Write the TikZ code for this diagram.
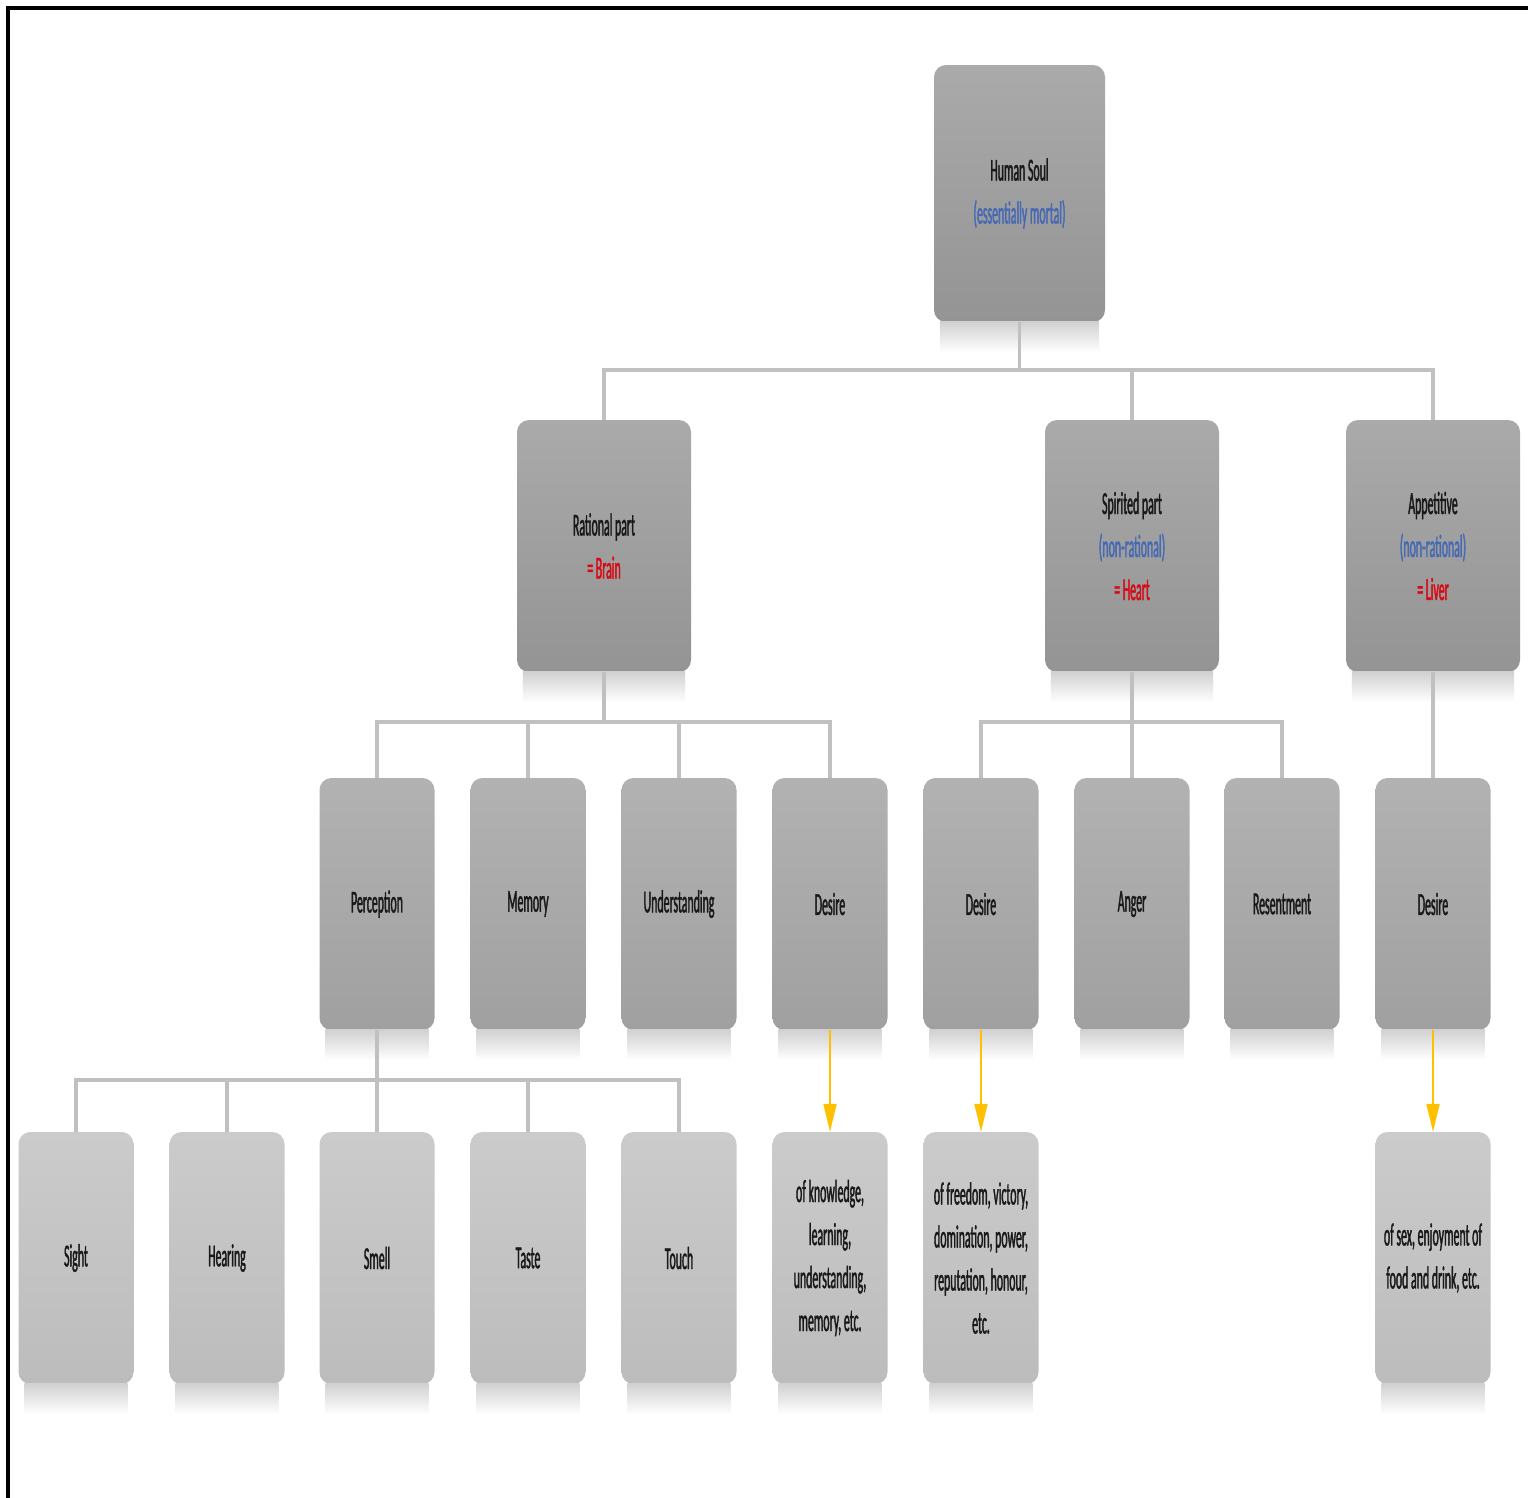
\documentclass[tikz,border=0pt]{standalone}
\usepackage{fontspec}
\usetikzlibrary{arrows.meta}
\newfontfamily\condfont[FakeStretch=0.37,FakeBold=1.2]{Carlito}
\definecolor{txtblue}{RGB}{70,105,180}
\definecolor{txtred}{RGB}{215,10,20}
\definecolor{linegray}{RGB}{192,192,192}
\definecolor{arrowyellow}{RGB}{255,192,0}
\definecolor{shadowgray}{RGB}{208,208,208}
\begin{document}
\begin{tikzpicture}[x=1pt,y=-1pt,
  boxbase/.style={rectangle, rounded corners=12pt, align=center, inner sep=2pt,
    font=\condfont\fontsize{32}{43}\selectfont, text=black!90},
  bigbox/.style={boxbase, minimum width=174pt, minimum height=252pt,
    top color={rgb,255:red,170;green,170;blue,170}, bottom color={rgb,255:red,148;green,148;blue,148}},
  midbox/.style={boxbase, minimum width=115pt, minimum height=252pt,
    top color={rgb,255:red,178;green,178;blue,178}, bottom color={rgb,255:red,160;green,160;blue,160}},
  leafbox/.style={boxbase, minimum width=115pt, minimum height=252pt,
    top color={rgb,255:red,203;green,203;blue,203}, bottom color={rgb,255:red,188;green,188;blue,188}},
  conn/.style={draw=linegray, line width=3.5pt},
  yarrow/.style={draw=arrowyellow, line width=2pt, -{Triangle[width=13pt,length=28pt]}}]

% page area and corner frame
\useasboundingbox (0,0) rectangle (1528,1497);
\fill[white] (0,0) rectangle (1528,1497);
\draw[line width=4pt, line cap=rect] (8,1497) -- (8,8) -- (1528,8);

% root
\node[bigbox, minimum width=171pt, minimum height=257pt] (soul) at (1019.5,193.5)
  {Human Soul\\\textcolor{txtblue}{(essentially mortal)}};

% three parts of the soul
\node[bigbox] (rat) at (604,546) {Rational part\\\textcolor{txtred}{= Brain}};
\node[bigbox] (spi) at (1132,546) {Spirited part\\\textcolor{txtblue}{(non-rational)}\\\textcolor{txtred}{= Heart}};
\node[bigbox] (app) at (1433,546) {Appetitive\\\textcolor{txtblue}{(non-rational)}\\\textcolor{txtred}{= Liver}};

% faculties
\node[midbox] (perc) at (377,904) {Perception};
\node[midbox] (mem)  at (528,904) {Memory};
\node[midbox] (und)  at (679,904) {Understanding};
\node[midbox] (desR) at (830,904) {Desire};
\node[midbox] (desS) at (981,904) {Desire};
\node[midbox] (ang)  at (1132,904) {Anger};
\node[midbox] (res)  at (1282,904) {Resentment};
\node[midbox] (desA) at (1433,904) {Desire};

% senses and objects of desire
\node[leafbox] (sight) at (76,1258) {Sight};
\node[leafbox] (hear)  at (227,1258) {Hearing};
\node[leafbox] (smell) at (377,1258) {Smell};
\node[leafbox] (taste) at (528,1258) {Taste};
\node[leafbox] (touch) at (679,1258) {Touch};
\node[leafbox] (objR)  at (830,1258) {of knowledge,\\learning,\\understanding,\\memory, etc.};
\node[leafbox] (objS)  at (981,1258) {of freedom, victory,\\domination, power,\\reputation, honour,\\etc.};
\node[leafbox] (objA)  at (1433,1258) {of sex, enjoyment of\\food and drink, etc.};

% soft shadows under every box
\foreach \n in {soul,rat,spi,app,perc,mem,und,desR,desS,ang,res,desA,
                sight,hear,smell,taste,touch,objR,objS,objA}
  \shade[top color=shadowgray, bottom color=white]
    ([shift={(6,-1)}]\n.south west) rectangle ([shift={(-6,30)}]\n.south east);

% tree connectors
\foreach \c in {rat,spi,app}
  \draw[conn] (soul.south) -- ++(0,48) -| (\c.north);
\foreach \c in {perc,mem,und,desR}
  \draw[conn] (rat.south) -- ++(0,50) -| (\c.north);
\foreach \c in {desS,ang,res}
  \draw[conn] (spi.south) -- ++(0,50) -| (\c.north);
\draw[conn] (app.south) -- (desA.north);
\foreach \c in {sight,hear,smell,taste,touch}
  \draw[conn] (perc.south) -- ++(0,50) -| (\c.north);

% desire arrows
\draw[yarrow] (desR.south) -- (objR.north);
\draw[yarrow] (desS.south) -- (objS.north);
\draw[yarrow] (desA.south) -- (objA.north);
\end{tikzpicture}
\end{document}
